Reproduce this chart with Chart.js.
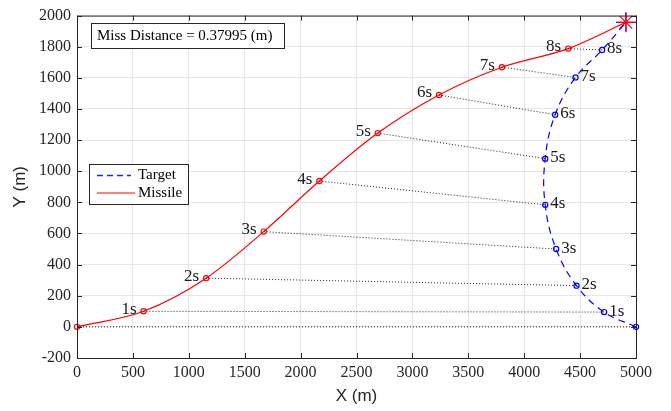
<!DOCTYPE html>
<html>
<head>
  <meta charset="utf-8">
  <title>Missile / Target trajectory</title>
  <script src="https://cdn.jsdelivr.net/npm/chart.js"></script>
  <style>
    body { margin: 0; padding: 0; background: #fff; }
    #wrap { width: 671px; height: 411px; }
  </style>
</head>
<body>
  <div id="wrap"><canvas id="myChart"></canvas></div>

  <script>
    // values
    const timeLabels = ['', '1s', '2s', '3s', '4s', '5s', '6s', '7s', '8s'];
    const missileX = [0, 595, 1155, 1670, 2168, 2690, 3238, 3801, 4393];
    const missileY = [0, 100, 313, 612, 937, 1245, 1490, 1668, 1788];
    const targetX = [5000, 4715, 4468, 4286, 4188, 4188, 4277, 4459, 4697];
    const targetY = [0, 95, 265, 500, 784, 1081, 1363, 1603, 1779];
    const hitX = 4910;
    const hitY = 1957;
    const missText = 'Miss Distance = 0.37995 (m)';
    const xTicks = [0, 500, 1000, 1500, 2000, 2500, 3000, 3500, 4000, 4500, 5000];
    const yTicks = [-200, 0, 200, 400, 600, 800, 1000, 1200, 1400, 1600, 1800, 2000];

    const serif = '"Liberation Serif", "Times New Roman", serif';
    const sans = '"Liberation Sans", Arial, sans-serif';

    const missilePts = missileX.map((x, i) => ({ x: x, y: missileY[i] }));
    const targetPts = targetX.map((x, i) => ({ x: x, y: targetY[i] }));

    const datasets = [];
    // dotted lines between missile and target at each second
    missilePts.forEach((m, i) => {
      datasets.push({
        data: [m, targetPts[i]],
        showLine: true,
        borderColor: '#222',
        borderWidth: 1,
        borderDash: [1, 2],
        pointRadius: 0,
        tension: 0
      });
    });
    datasets.push({
      label: 'Target',
      data: targetPts.concat([{ x: hitX, y: hitY }]),
      showLine: true,
      clip: false,
      borderColor: '#0000ff',
      borderWidth: 1.2,
      borderDash: [7, 5],
      pointStyle: 'circle',
      pointRadius: targetPts.map(() => 2.6).concat([0]),
      pointBorderColor: '#0000ff',
      pointBackgroundColor: 'rgba(0,0,0,0)',
      pointBorderWidth: 1.2,
      tension: 0.4
    });
    datasets.push({
      label: 'Missile',
      data: missilePts.concat([{ x: hitX, y: hitY }]),
      showLine: true,
      clip: false,
      borderColor: '#ff0000',
      borderWidth: 1.2,
      pointStyle: 'circle',
      pointRadius: missilePts.map(() => 2.6).concat([0]),
      pointBorderColor: '#ff0000',
      pointBackgroundColor: 'rgba(0,0,0,0)',
      pointBorderWidth: 1.2,
      cubicInterpolationMode: 'monotone'
    });
    // intercept marker
    datasets.push({
      data: [{ x: hitX, y: hitY }],
      clip: false,
      pointStyle: 'star',
      pointRadius: 9,
      pointBorderColor: '#ff0000',
      pointBorderWidth: 1.2
    });
    datasets.push({
      data: [{ x: hitX, y: hitY }],
      clip: false,
      pointStyle: 'cross',
      pointRadius: 10,
      pointBorderColor: '#0000ff',
      pointBorderWidth: 1.2
    });

    const decorations = {
      id: 'decorations',
      afterDatasetsDraw(chart) {
        const c = chart.ctx;
        const xs = chart.scales.x;
        const ys = chart.scales.y;
        const a = chart.chartArea;
        c.save();

        // inward ticks on all four sides + box
        c.strokeStyle = '#262626';
        c.lineWidth = 1;
        c.beginPath();
        xTicks.forEach(v => {
          const p = Math.round(xs.getPixelForValue(v)) + 0.5;
          c.moveTo(p, a.bottom); c.lineTo(p, a.bottom - 5);
          c.moveTo(p, a.top); c.lineTo(p, a.top + 5);
        });
        yTicks.forEach(v => {
          const p = Math.round(ys.getPixelForValue(v)) + 0.5;
          c.moveTo(a.left, p); c.lineTo(a.left + 5, p);
          c.moveTo(a.right, p); c.lineTo(a.right - 5, p);
        });
        c.stroke();
        c.strokeRect(a.left + 0.5, a.top + 0.5, a.right - a.left, a.bottom - a.top);

        // time labels
        c.fillStyle = '#1a1a1a';
        c.font = '17px ' + serif;
        c.textBaseline = 'middle';
        for (let i = 1; i < timeLabels.length; i++) {
          c.textAlign = 'right';
          c.fillText(timeLabels[i], xs.getPixelForValue(missileX[i]) - 7, ys.getPixelForValue(missileY[i]) - 2);
          c.textAlign = 'left';
          c.fillText(timeLabels[i], xs.getPixelForValue(targetX[i]) + 5, ys.getPixelForValue(targetY[i]) - 1);
        }

        // miss distance box
        c.lineWidth = 1;
        c.fillStyle = '#fff';
        c.fillRect(91.5, 23.5, 193, 25);
        c.strokeStyle = '#262626';
        c.strokeRect(91.5, 23.5, 193, 25);
        c.fillStyle = '#000';
        c.textAlign = 'left';
        c.font = '15px ' + serif;
        c.fillText(missText, 97, 36.5);

        // legend box
        c.fillStyle = '#fff';
        c.fillRect(89.5, 164.5, 99, 40);
        c.strokeRect(89.5, 164.5, 99, 40);
        c.lineWidth = 1.5;
        c.strokeStyle = '#2020ff';
        c.setLineDash([6, 4]);
        c.beginPath(); c.moveTo(97, 175.5); c.lineTo(131, 175.5); c.stroke();
        c.setLineDash([]);
        c.strokeStyle = '#ff5555';
        c.beginPath(); c.moveTo(97, 193); c.lineTo(135, 193); c.stroke();
        c.fillStyle = '#000';
        c.font = '15px ' + serif;
        c.fillText('Target', 138, 175.5);
        c.fillText('Missile', 138, 193);
        c.restore();
      }
    };

    const ctx = document.getElementById('myChart').getContext('2d');
    new Chart(ctx, {
      type: 'scatter',
      data: { datasets: datasets },
      options: {
        responsive: true,
        maintainAspectRatio: false,
        animation: false,
        layout: { padding: { top: 10, right: 35, left: 6, bottom: 0 } },
        plugins: {
          legend: { display: false },
          tooltip: { enabled: false }
        },
        scales: {
          x: {
            type: 'linear',
            min: 0,
            max: 5000,
            afterBuildTicks: s => { s.ticks = xTicks.map(v => ({ value: v })); },
            afterFit: s => { s.height = 53; },
            border: { display: false },
            grid: { color: '#e6e6e6', drawTicks: false },
            ticks: {
              color: '#262626',
              font: { family: serif, size: 16 },
              padding: 5,
              maxRotation: 0,
              callback: v => String(v)
            },
            title: {
              display: true,
              text: 'X (m)',
              color: '#262626',
              font: { family: sans, size: 17 },
              padding: { top: 0 }
            }
          },
          y: {
            type: 'linear',
            min: -200,
            max: 2000,
            afterBuildTicks: s => { s.ticks = yTicks.map(v => ({ value: v })); },
            afterFit: s => { s.width = 71; },
            border: { display: false },
            grid: { color: '#e6e6e6', drawTicks: false },
            ticks: {
              color: '#262626',
              font: { family: serif, size: 16 },
              padding: 6,
              callback: v => String(v)
            },
            title: {
              display: true,
              text: 'Y (m)',
              color: '#262626',
              font: { family: sans, size: 17 },
              padding: { bottom: 0 }
            }
          }
        }
      },
      plugins: [decorations]
    });
  </script>
</body>
</html>
